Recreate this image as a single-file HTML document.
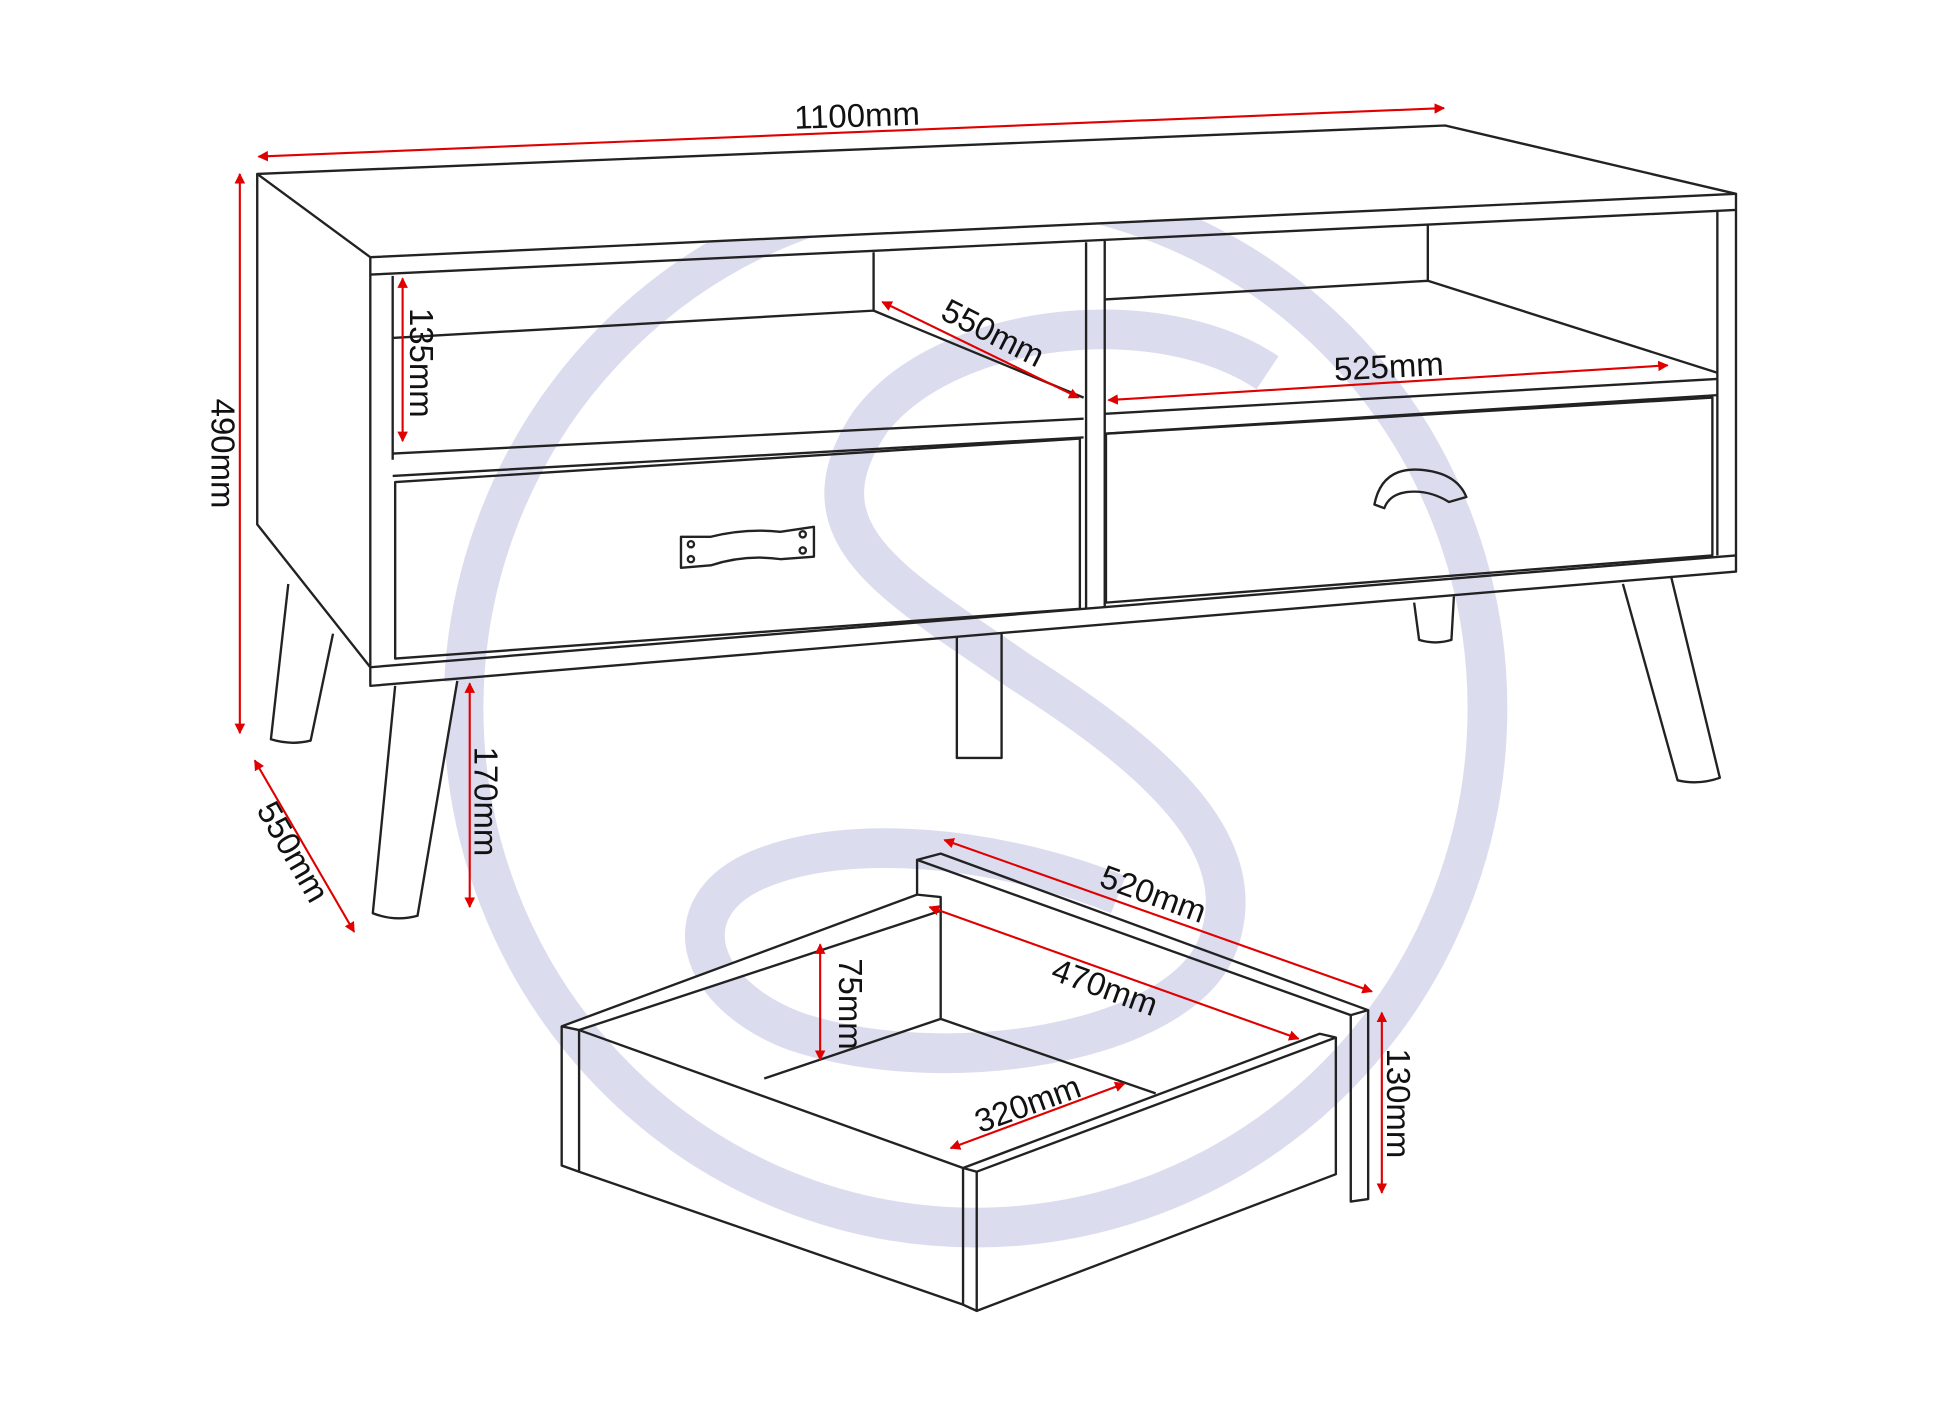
<!DOCTYPE html>
<html><head><style>html,body{margin:0;padding:0;background:#fff}svg{display:block}</style></head>
<body>
<svg width="1946" height="1414" viewBox="0 0 1566 1138" preserveAspectRatio="none" xmlns="http://www.w3.org/2000/svg">
<defs>
<marker id="a" viewBox="0 0 10 10" refX="9" refY="5" markerWidth="5" markerHeight="5" orient="auto-start-reverse"><path d="M0,0 L10,5 L0,10 z" fill="#e00000"/></marker>
</defs>
<rect width="1566" height="1138" fill="#fff"/>
<g fill="none" stroke="#dcdcef" stroke-width="32">
<ellipse cx="785" cy="570" rx="412" ry="418"/>
<path d="M1020,300 C930,240 760,260 700,340 C640,430 720,470 820,540 C930,610 1010,680 980,760 C950,840 760,870 640,830 C560,800 540,730 610,700 C680,670 800,680 900,720"/>
</g>
<g fill="none" stroke="#222" stroke-width="1.9" stroke-linejoin="round">
<path d="M207,140 L1163,101 L1397,156 L298,207 Z" fill="#fff"/>
<path d="M298,207 L298,221 L1397,169 L1397,156"/>
<path d="M207,140 L207,422 L298,537"/>
<path d="M298,221 L298,552 L1397,460 L1397,169"/>
<path d="M316,222 L316,370"/>
<path d="M298,537 L1397,447"/>
<path d="M1382,170 L1382,447"/>
<path d="M874,195 L874,490 M889,194 L889,489"/>
<path d="M316,272 L703,250 M703,203 L703,250 L872,320"/>
<path d="M316,365 L872,337 M316,383 L872,352"/>
<path d="M318,388 L869,353 L869,490 L318,530 Z"/>
<path d="M889,241 L1149,226 M1149,180 L1149,226 L1382,300"/>
<path d="M889,333 L1382,305 M889,349 L1382,318"/>
<path d="M890,349 L1378,320 L1378,447 L890,485 Z"/>
<path d="M548,432 L572,432 Q600,425 628,428 L655,424 L655,448 L628,450 Q600,446 572,455 L548,457 Z"/>
<circle cx="556" cy="438" r="2.5"/><circle cx="556" cy="450" r="2.5"/><circle cx="646" cy="430" r="2.5"/><circle cx="646" cy="443" r="2.5"/>
<path d="M1106,406 Q1112,376 1142,378 Q1172,380 1180,400 L1166,404 Q1150,394 1132,396 Q1118,398 1114,409 Z"/>
<path d="M318,552 L300,735 Q318,742 336,737 L368,548" fill="#fff"/>
<path d="M232,470 L218,595 Q234,600 250,596 L268,510"/>
<path d="M770,512 L770,610 L806,610 L806,510"/>
<path d="M1138,485 L1142,515 Q1155,519 1168,515 L1170,480"/>
<path d="M1306,470 L1350,628 Q1367,632 1384,626 L1345,465"/>
<path d="M452,826 L738,720 L757,722 L757,733 L466,829 Z" fill="#fff"/>
<path d="M452,826 L452,938 L466,943 L466,829"/>
<path d="M466,829 L775,940"/>
<path d="M757,733 L757,820 M757,820 L615,868 M757,820 L930,880"/>
<path d="M738,692 L757,687 L1101,813 L1101,965 L1087,967 L1087,817 L738,692 L738,720"/>
<path d="M1087,817 L1101,813"/>
<path d="M775,940 L1062,832 L1075,835 L786,943 Z" fill="#fff"/>
<path d="M775,940 L775,1050 L786,1055 L786,943"/>
<path d="M466,943 L775,1050 M786,1055 L1075,945 L1075,835"/>
</g>
<g stroke="#e00000" stroke-width="1.7" fill="none" marker-start="url(#a)" marker-end="url(#a)">
<line x1="208" y1="126" x2="1162" y2="87"/>
<line x1="193" y1="140" x2="193" y2="590"/>
<line x1="205" y1="612" x2="285" y2="750"/>
<line x1="378" y1="550" x2="378" y2="730"/>
<line x1="324" y1="224" x2="324" y2="355"/>
<line x1="710" y1="243" x2="868" y2="320"/>
<line x1="892" y1="322" x2="1342" y2="294"/>
<line x1="760" y1="676" x2="1104" y2="798"/>
<line x1="748" y1="730" x2="1045" y2="836"/>
<line x1="660" y1="760" x2="660" y2="853"/>
<line x1="765" y1="924" x2="905" y2="872"/>
<line x1="1112" y1="815" x2="1112" y2="960"/>
</g>
<g font-family="Liberation Sans, sans-serif" font-size="26.5" fill="#111">
<text x="690" y="102" text-anchor="middle" transform="rotate(-2 690 102)">1100mm</text>
<text transform="translate(170,365) rotate(90)" text-anchor="middle">490mm</text>
<text transform="translate(228,690) rotate(60)" text-anchor="middle">550mm</text>
<text transform="translate(382,645) rotate(90)" text-anchor="middle">170mm</text>
<text transform="translate(330,292) rotate(90)" text-anchor="middle">135mm</text>
<text transform="translate(795,276) rotate(27)" text-anchor="middle">550mm</text>
<text transform="translate(1118,304) rotate(-3)" text-anchor="middle">525mm</text>
<text transform="translate(925,728) rotate(20)" text-anchor="middle">520mm</text>
<text transform="translate(886,803) rotate(20)" text-anchor="middle">470mm</text>
<text transform="translate(675,808) rotate(90)" text-anchor="middle">75mm</text>
<text transform="translate(830,897) rotate(-20)" text-anchor="middle">320mm</text>
<text transform="translate(1116,888) rotate(90)" text-anchor="middle">130mm</text>
</g>
</svg>
</body></html>
